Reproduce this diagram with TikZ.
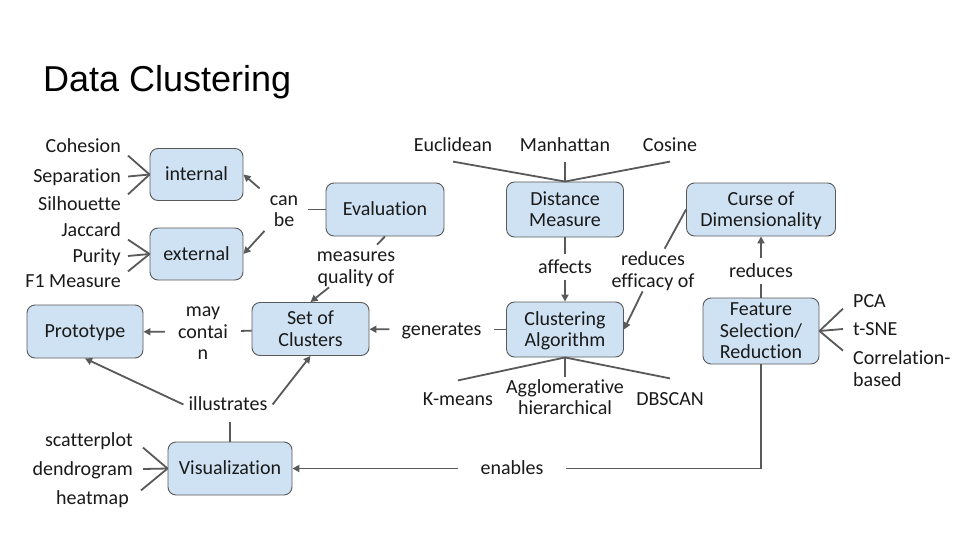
\documentclass[tikz,border=0pt]{standalone}
\usepackage{fontspec}
\setmainfont{Carlito}[Ligatures=NoCommon]
\newfontfamily\titlefont{Liberation Sans}
\usetikzlibrary{arrows.meta}
\definecolor{boxfill}{HTML}{CFE2F3}
\definecolor{edge}{HTML}{595959}
\definecolor{ink}{HTML}{1A1A1A}
\begin{document}
\begin{tikzpicture}[x=1pt,y=-1pt,
  every node/.style={font=\fontsize{20}{21.5}\selectfont, text height=12.8pt, text depth=0pt, align=center, text=ink},
  twolines/.style={text height=34.3pt},
  threelines/.style={text height=55.8pt},
  concept/.style={draw=edge, line width=0.9pt, fill=boxfill, rounded corners=8pt, inner sep=0pt},
  linklabel/.style={inner xsep=5pt, inner ysep=4pt},
  leaf/.style={inner xsep=7pt, inner ysep=3pt},
  link/.style={draw=edge, line width=1.8pt},
  arrow/.style={link, -{Triangle[length=7pt,width=7pt]}},
]
\fill[white] (0,0) rectangle (960,540);
\useasboundingbox (0,0) rectangle (960,540);

% title
\node[anchor=base west, inner sep=0pt, font=\titlefont\fontsize{36}{40}\selectfont, text=black] (title) at (43,92) {Data Clustering};

% concepts
\node[concept, minimum width=93pt, minimum height=52pt] (internal) at (196.5,174.5) {internal};
\node[concept, minimum width=93pt, minimum height=52pt] (external) at (196.5,254) {external};
\node[concept, minimum width=118pt, minimum height=53pt] (eval) at (385,209.5) {Evaluation};
\node[concept, twolines, minimum width=117pt, minimum height=53pt] (soc) at (310.5,329) {Set of\\Clusters};
\node[concept, minimum width=116pt, minimum height=53pt] (proto) at (85,331.5) {Prototype};
\node[concept, twolines, minimum width=117pt, minimum height=55pt] (dist) at (565,209.5) {Distance\\Measure};
\node[concept, twolines, minimum width=117pt, minimum height=55pt] (algo) at (565,329.5) {Clustering\\Algorithm};
\node[concept, twolines, minimum width=149pt, minimum height=53pt] (curse) at (761,209.5) {Curse of\\Dimensionality};
\node[concept, threelines, minimum width=116pt, minimum height=66pt] (feat) at (761,331) {Feature\\Selection/\\Reduction};
\node[concept, minimum width=124pt, minimum height=53pt] (vis) at (230,468.5) {Visualization};

% link labels
\node[linklabel, twolines, inner xsep=10pt] (canbe) at (284,209.5) {can\\be};
\node[linklabel, twolines] (measures) at (356,266) {measures\\quality of};
\node[linklabel, inner xsep=12pt] (generates) at (441.5,329.5) {generates};
\node[linklabel, threelines, inner xsep=13pt] (maycontain) at (203,332) {may\\contai\\n};
\node[linklabel, inner ysep=11pt] (illustrates) at (228,404.5) {illustrates};
\node[linklabel, inner xsep=22pt] (enables) at (512,468.5) {enables};
\node[linklabel, inner ysep=6pt] (affects) at (565,267) {affects};
\node[linklabel, twolines] (reduceseff) at (653,270) {reduces\\efficacy of};
\node[linklabel, inner ysep=6pt] (reduces) at (761,271) {reduces};

% leaves
\node[leaf, anchor=east] (cohesion) at (128,146) {Cohesion};
\node[leaf, anchor=east] (separation) at (128,176.5) {Separation};
\node[leaf, anchor=east] (silhouette) at (128,204) {Silhouette};
\node[leaf, anchor=east] (jaccard) at (128,230) {Jaccard};
\node[leaf, anchor=east] (purity) at (128,256) {Purity};
\node[leaf, anchor=east] (fone) at (128,281) {F1 Measure};

\node[leaf, inner ysep=10pt] (euclid) at (453,145) {Euclidean};
\node[leaf, inner ysep=10pt] (manhattan) at (565,145) {Manhattan};
\node[leaf, inner ysep=10pt] (cosine) at (670,145) {Cosine};

\node[leaf, inner ysep=12pt] (kmeans) at (458,399) {K-means};
\node[leaf, twolines, inner ysep=3pt] (aggl) at (565,397.5) {Agglomerative\\hierarchical};
\node[leaf, inner ysep=14pt] (dbscan) at (670,399) {DBSCAN};

\node[leaf, anchor=west, inner xsep=10pt, inner ysep=1pt] (pca) at (843,301) {PCA};
\node[leaf, anchor=west, inner xsep=10pt, inner ysep=1pt] (tsne) at (843,329) {t-SNE};
\node[leaf, twolines, anchor=west, inner xsep=10pt, inner ysep=1pt, align=left] (corr) at (843,369) {Correlation-\\based};

\node[leaf, anchor=east, inner xsep=10pt, inner ysep=1pt] (scatter) at (143,440) {scatterplot};
\node[leaf, anchor=east, inner xsep=10pt, inner ysep=1pt] (dendro) at (143,469) {dendrogram};
\node[leaf, anchor=east, inner xsep=12pt, inner ysep=1pt] (heatmap) at (141,498) {heatmap};

% connectors
\draw[link] (cohesion.south east) -- (internal.west);
\draw[link] (separation.east) -- (internal.west);
\draw[link] (silhouette.north east) -- (internal.west);
\draw[link] (jaccard.south east) -- (external.west);
\draw[link] (purity.east) -- (external.west);
\draw[link] (fone.north east) -- (external.west);

\draw[link] (eval) -- (canbe);
\draw[arrow] (canbe) -- (internal.east);
\draw[arrow] (canbe) -- (external.east);

\draw[link] (eval.south) -- (measures);
\draw[arrow] (measures) -- (soc.north);

\draw[link] (algo) -- (generates);
\draw[arrow] (generates) -- (soc);

\draw[link] (soc) -- (maycontain);
\draw[arrow] (maycontain) -- (proto);

\draw[link] (vis.north) -- (vis.north |- illustrates.south);
\draw[arrow] (illustrates.west) -- (proto.south);
\draw[arrow] (illustrates.east) -- (soc.south);

\draw[link] (feat.south) |- (enables);
\draw[arrow] (enables) -- (vis);

\draw[link] (dist) -- (affects);
\draw[arrow] (affects) -- (algo);

\draw[link] (curse.west) -- (reduceseff);
\draw[arrow] (reduceseff) -- (algo.east);

\draw[link] (feat) -- (reduces);
\draw[arrow] (reduces) -- (curse);

\draw[link] (euclid.south) -- (dist.north);
\draw[link] (manhattan.south) -- (dist.north);
\draw[link] (cosine.south) -- (dist.north);

\draw[link] (algo.south) -- (kmeans.north);
\draw[link] (algo.south) -- (aggl.north);
\draw[link] (algo.south) -- (dbscan.north);

\draw[link] (feat.east) -- (pca.south west);
\draw[link] (feat.east) -- (tsne.west);
\draw[link] (feat.east) -- (corr.north west);

\draw[link] (scatter.south east) -- (vis.west);
\draw[link] (dendro.east) -- (vis.west);
\draw[link] (heatmap.north east) -- (vis.west);
\end{tikzpicture}
\end{document}
